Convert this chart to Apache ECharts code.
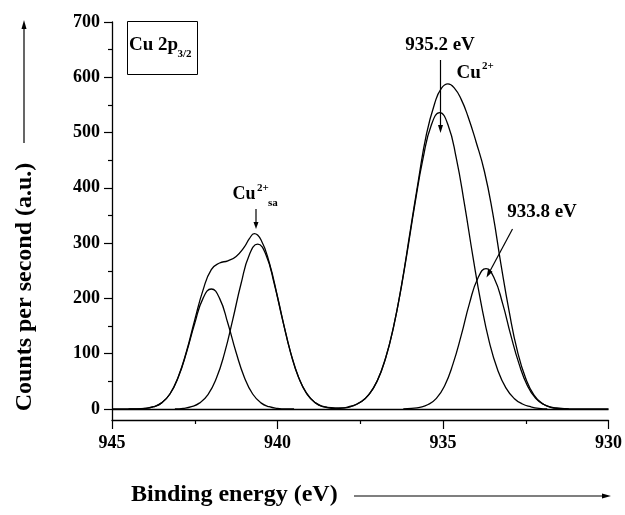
<!DOCTYPE html>
<html>
<head>
<meta charset="utf-8">
<script src="https://cdn.jsdelivr.net/npm/echarts@6/dist/echarts.min.js"></script>
<style>
html, body { margin: 0; padding: 0; background: #fff; }
#chart { width: 625px; height: 515px; }
</style>
</head>
<body>
<div id="chart"></div>
<script>
// satellite component near 942 eV
const satAEnergy = [944.5, 944.25, 944, 943.75, 943.5, 943.25, 943, 942.75, 942.5, 942.25, 942,
  941.75, 941.5, 941.25, 941, 940.75, 940.5, 940.25, 940, 939.75, 939.5];
const satA = [0, 0, 1, 4, 11, 27, 57, 102, 155, 200, 217,
  200, 155, 102, 57, 27, 11, 4, 1, 0, 0];

// satellite component near 940.6 eV
const satBEnergy = [943.1, 942.85, 942.6, 942.35, 942.1, 941.85, 941.6, 941.35, 941.1, 940.85, 940.6,
  940.35, 940.1, 939.85, 939.6, 939.35, 939.1, 938.85, 938.6, 938.35, 938.1];
const satB = [0, 1, 4, 11, 26, 55, 101, 162, 227, 279, 298,
  279, 227, 162, 101, 55, 26, 11, 4, 1, 0];

// main Cu2+ component (935.2 eV label)
const mainCEnergy = [938.35, 938.1, 937.85, 937.6, 937.35, 937.1, 936.85, 936.6, 936.35, 936.1,
  935.85, 935.6, 935.35, 935.1, 934.85, 934.6, 934.35, 934.1, 933.85, 933.6,
  933.35, 933.1, 932.85, 932.6, 932.35, 932.1, 931.85];
const mainC = [0, 1, 4, 9, 19, 38, 71, 121, 191, 277,
  370, 454, 514, 536, 514, 454, 370, 277, 191, 121,
  71, 38, 19, 9, 4, 1, 0];

// component at 933.8 eV
const mainDEnergy = [936.2, 935.95, 935.7, 935.45, 935.2, 934.95, 934.7, 934.45, 934.2, 933.95, 933.7,
  933.45, 933.2, 932.95, 932.7, 932.45, 932.2, 931.95, 931.7, 931.45, 931.2];
const mainD = [0, 1, 3, 8, 19, 42, 81, 133, 191, 236, 254,
  236, 191, 133, 81, 42, 19, 8, 3, 1, 0];

// measured envelope
const envEnergy = [945, 944.5, 944, 943.75, 943.5, 943.25, 943, 942.75, 942.5, 942.25,
  942, 941.75, 941.5, 941.25, 941, 940.85, 940.7, 940.5, 940.25, 940,
  939.75, 939.5, 939.25, 939, 938.75, 938.5, 938, 937.75, 937.5, 937.25,
  937, 936.75, 936.5, 936.25, 936, 935.75, 935.5, 935.25, 935.05, 934.85,
  934.65, 934.45, 934.25, 934, 933.75, 933.5, 933.25, 933, 932.75, 932.5,
  932.25, 932, 931.75, 931.5, 931, 930];
const envelope = [0, 0, 1, 4, 11, 27, 58, 104, 161, 215,
  252, 264, 268, 276, 293, 308, 317, 306, 265, 203,
  137, 81, 42, 19, 7, 3, 2, 5, 12, 25,
  49, 89, 147, 225, 318, 411, 497, 553, 580, 588,
  580, 560, 530, 483, 430, 355, 262, 176, 104, 55,
  25, 10, 3, 1, 0, 0];

const yTicks = [0, 100, 200, 300, 400, 500, 600, 700];
const yMinorTicks = [50, 150, 250, 350, 450, 550, 650];

const serif = '"Liberation Serif", "Times New Roman", serif';

function curve(name, xs, ys) {
  return {
    name: name,
    type: 'line',
    data: xs.map(function (e, i) { return [e, ys[i]]; }),
    smooth: 0.5,
    showSymbol: false,
    silent: true,
    lineStyle: { color: '#000', width: 1.3 }
  };
}

function text(str, x, y, size, align) {
  return {
    type: 'text', x: x, y: y, silent: true,
    style: {
      text: str, fill: '#000',
      font: 'bold ' + size + 'px ' + serif,
      textAlign: align || 'left', textVerticalAlign: 'middle'
    }
  };
}

// arrow from (x1,y1) to (x2,y2) with a small filled head
function arrow(x1, y1, x2, y2, len, half) {
  len = len || 8; half = half || 2.5;
  const dx = x2 - x1, dy = y2 - y1;
  const d = Math.sqrt(dx * dx + dy * dy);
  const ux = dx / d, uy = dy / d;
  const bx = x2 - ux * len, by = y2 - uy * len;
  return [
    { type: 'line', silent: true, shape: { x1: x1, y1: y1, x2: bx, y2: by }, style: { stroke: '#000', lineWidth: 1.2 } },
    { type: 'polygon', silent: true, shape: { points: [[x2, y2], [bx - uy * half, by + ux * half], [bx + uy * half, by - ux * half]] }, style: { fill: '#000' } }
  ];
}

const chart = echarts.init(document.getElementById('chart'));

const graphics = [
  {
    type: 'text', x: 25, y: 287, rotation: Math.PI / 2, silent: true,
    style: {
      text: 'Counts per second (a.u.)', fill: '#000',
      font: 'bold 24px ' + serif, textAlign: 'center', textVerticalAlign: 'middle'
    }
  },
  text('Binding energy (eV)', 131, 495, 24),
  { type: 'rect', silent: true, shape: { x: 127.5, y: 21.5, width: 70, height: 53 }, style: { fill: 'none', stroke: '#000', lineWidth: 1 } },
  text('Cu 2p', 129, 45, 19),
  text('3/2', 177.5, 54.5, 11),
  text('935.2 eV', 440, 45, 19, 'center'),
  text('Cu', 456.5, 73.5, 19),
  text('2+', 482, 66.5, 11),
  text('933.8 eV', 542, 212, 19, 'center'),
  text('Cu', 232.5, 194, 18),
  text('2+', 257, 188.5, 11),
  text('sa', 268, 203, 11)
].concat(
  arrow(24, 143, 24, 20, 9, 2.5),
  arrow(354, 496, 611, 496, 9, 2.5),
  arrow(440.5, 60, 440.5, 133, 8, 2.5),
  arrow(512.5, 229, 486.5, 277.5, 8, 2.5),
  arrow(256, 209, 256, 229, 7, 2.5)
);

chart.setOption({
  animation: false,
  backgroundColor: '#fff',
  grid: { left: 112, right: 14, top: 22, bottom: 95 },
  xAxis: {
    type: 'value',
    inverse: true,
    min: 930,
    max: 945,
    interval: 5,
    axisLine: { onZero: false, lineStyle: { color: '#000', width: 1.3 } },
    axisTick: { inside: false, length: 9, lineStyle: { color: '#000', width: 1.2 } },
    minorTick: { show: true, splitNumber: 2, length: 4, lineStyle: { color: '#000', width: 1.2 } },
    splitLine: { show: false },
    axisLabel: { color: '#000', fontFamily: serif, fontWeight: 'bold', fontSize: 18, margin: 14 }
  },
  yAxis: [
    {
      type: 'value',
      min: -20,
      max: 700,
      position: 'left',
      axisLine: { show: true, lineStyle: { color: '#000', width: 1.3 } },
      axisTick: { show: true, length: 8, customValues: yTicks, lineStyle: { color: '#000', width: 1.2 } },
      axisLabel: { customValues: yTicks, color: '#000', fontFamily: serif, fontWeight: 'bold', fontSize: 18, margin: 12 },
      splitLine: { show: false }
    },
    {
      type: 'value',
      min: -20,
      max: 700,
      position: 'left',
      axisLine: { show: false },
      axisTick: { show: true, length: 4, customValues: yMinorTicks, lineStyle: { color: '#000', width: 1.2 } },
      axisLabel: { show: false },
      splitLine: { show: false }
    }
  ],
  series: [
    Object.assign(curve('envelope', envEnergy, envelope), {
      markLine: {
        silent: true,
        symbol: ['none', 'none'],
        label: { show: false },
        lineStyle: { color: '#000', width: 1.3, type: 'solid' },
        data: [{ yAxis: 0 }]
      }
    }),
    curve('satA', satAEnergy, satA),
    curve('satB', satBEnergy, satB),
    curve('mainC', mainCEnergy, mainC),
    curve('mainD', mainDEnergy, mainD)
  ],
  graphic: graphics
});
</script>
</body>
</html>
